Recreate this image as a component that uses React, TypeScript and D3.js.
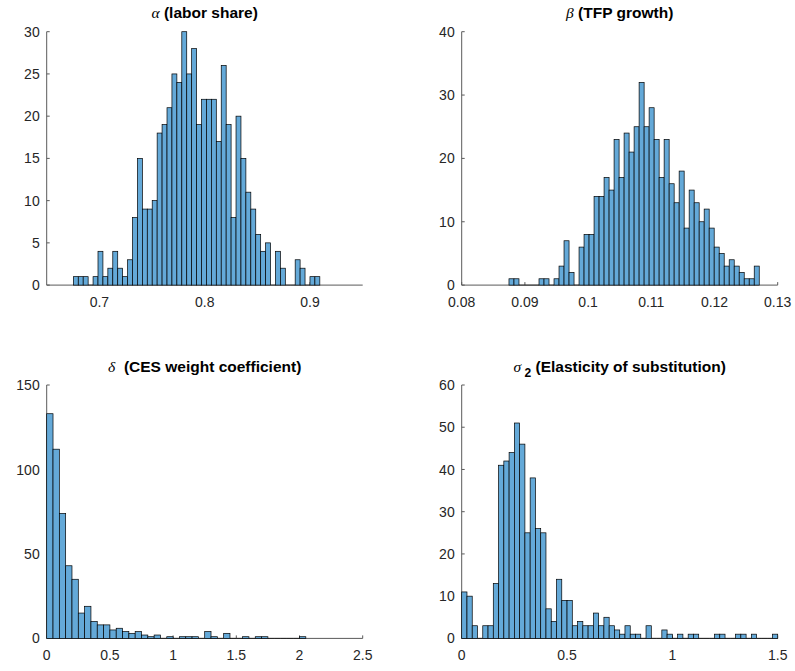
import React from 'react';
import * as d3 from 'd3';

// ---------- data ----------
const alphaCounts = [1,1,1,0,1,4,1,2,4,2, 1,3,8,15,9,9,10,18,19,21, 25,24,30,25,28,19,22,22,22,17, 26,19,8,20,15,11,9,6,4,5, 0,4,2,0,0,3,2,0,1,1];
const alphaStart = 0.6753;
const alphaBinWidth = 0.00468;
const alphaXDomain = [0.65, 0.95];
const alphaYDomain = [0, 30];
const alphaXTicks = [0.7, 0.8, 0.9];
const alphaYTicks = [0, 5, 10, 15, 20, 25, 30];

const betaCounts = [1,1,0,0,0,0,1,1,0,1, 3,7,2,0,6,8,8,14,14,17, 15,23,17,24,21,25,32,25,28,23, 17,23,16,13,18,9,15,13,10,12, 9,6,5,3,4,3,2,1,1,3];
const betaStart = 0.08748;
const betaBinWidth = 0.000792;
const betaXDomain = [0.08, 0.13];
const betaYDomain = [0, 40];
const betaXTicks = [0.08, 0.09, 0.1, 0.11, 0.12, 0.13];
const betaYTicks = [0, 10, 20, 30, 40];

const deltaCounts = [133,112,74,43,35,15,19,10,8,8, 5,6,4,3,4,2,1,2,0,1, 0,1,1,1,0,4,1,0,3,0, 0,1,0,1,1,0,0,0,0,0, 1];
const deltaStart = 0;
const deltaBinWidth = 0.05;
const deltaXDomain = [0, 2.5];
const deltaYDomain = [0, 150];
const deltaXTicks = [0, 0.5, 1, 1.5, 2, 2.5];
const deltaYTicks = [0, 50, 100, 150];

const sigmaCounts = [11,10,3,0,3,3,13,41,42,44, 51,46,25,38,26,25,7,4,14,9, 9,3,4,3,3,6,3,5,3,2, 1,3,1,1,0,3,0,0,2,1, 0,1,0,1,1,0,0,0,1,1, 0,0,1,1,0,1,0,0,0,1];
const sigmaStart = 0;
const sigmaBinWidth = 0.025;
const sigmaXDomain = [0, 1.5];
const sigmaYDomain = [0, 60];
const sigmaXTicks = [0, 0.5, 1, 1.5];
const sigmaYTicks = [0, 10, 20, 30, 40, 50, 60];

// ---------- styling ----------
const W = 795;
const H = 671;
const BAR_FILL = '#64a9d8';
const AXIS = '#5a5a5a';
const TEXT = '#262626';
const TICK_FONT = 14;
const TITLE_FONT = 15.5;
const SANS = '"Liberation Sans", Arial, Helvetica, sans-serif';
const SERIF = '"Liberation Serif", "DejaVu Serif", serif';

const fmt = (d: number) => String(+d.toFixed(4));

type PanelProps = {
  left: number; top: number; width: number; height: number;
  counts: number[]; start: number; binWidth: number;
  xDomain: number[]; yDomain: number[]; xTicks: number[]; yTicks: number[];
  title: React.ReactNode;
};

function Panel(p: PanelProps) {
  const x = d3.scaleLinear().domain(p.xDomain).range([p.left, p.left + p.width]);
  const y = d3.scaleLinear().domain(p.yDomain).range([p.top + p.height, p.top]);
  const bottom = p.top + p.height;
  const bins = p.counts.map((c, i) => ({ x0: p.start + i * p.binWidth, x1: p.start + (i + 1) * p.binWidth, c }));
  return (
    <g>
      <text x={p.left + p.width / 2} y={p.top - 13.5} textAnchor="middle" fontFamily={SANS}
        fontSize={TITLE_FONT} fill="#000" style={{ whiteSpace: 'pre' }}>{p.title}</text>
      {/* axes */}
      <line x1={p.left} x2={p.left + p.width} y1={bottom} y2={bottom} stroke={AXIS} strokeWidth={1} />
      <line x1={p.left} x2={p.left} y1={p.top} y2={bottom} stroke={AXIS} strokeWidth={1} />
      {p.yTicks.map(t => (
        <g key={'y' + t}>
          <line x1={p.left} x2={p.left + 3} y1={y(t)} y2={y(t)} stroke={AXIS} />
          <text x={p.left - 7} y={y(t)} dy="0.36em" textAnchor="end" fontFamily={SANS}
            fontSize={TICK_FONT} fill={TEXT}>{fmt(t)}</text>
        </g>
      ))}
      {p.xTicks.map(t => (
        <g key={'x' + t}>
          <line x1={x(t)} x2={x(t)} y1={bottom} y2={bottom - 3} stroke={AXIS} />
          <text x={x(t)} y={bottom + 22} textAnchor="middle" fontFamily={SANS}
            fontSize={TICK_FONT} fill={TEXT}>{fmt(t)}</text>
        </g>
      ))}
      {/* bars */}
      {bins.map((b, i) => b.c > 0 ? (
        <rect key={i} x={x(b.x0)} y={y(b.c)} width={x(b.x1) - x(b.x0)} height={bottom - y(b.c)}
          fill={BAR_FILL} stroke="#000" strokeWidth={0.7} />
      ) : (
        <line key={i} x1={x(b.x0)} x2={x(b.x1)} y1={bottom} y2={bottom} stroke="#000" strokeWidth={0.7} />
      ))}
    </g>
  );
}

const greek = (s: string) => (
  <tspan fontFamily={SERIF} fontStyle="italic" fontWeight="normal">{s}</tspan>
);

export default function App() {
  const pw = 316;
  const ph = 253.4;
  const l1 = 46.7, l2 = 461.7, t1 = 31.7, t2 = 385;
  return (
    <svg width={W} height={H} viewBox={`0 0 ${W} ${H}`}
      style={{ position: 'absolute', left: 0, top: 0, background: '#fff' }}>
      <rect x={0} y={0} width={W} height={H} fill="#fff" />
      <Panel left={l1} top={t1} width={pw} height={ph} counts={alphaCounts} start={alphaStart}
        binWidth={alphaBinWidth} xDomain={alphaXDomain} yDomain={alphaYDomain} xTicks={alphaXTicks}
        yTicks={alphaYTicks}
        title={<>{greek('α')}<tspan fontWeight="bold"> (labor share)</tspan></>} />
      <Panel left={l2} top={t1} width={pw} height={ph} counts={betaCounts} start={betaStart}
        binWidth={betaBinWidth} xDomain={betaXDomain} yDomain={betaYDomain} xTicks={betaXTicks}
        yTicks={betaYTicks}
        title={<>{greek('β')}<tspan fontWeight="bold"> (TFP growth)</tspan></>} />
      <Panel left={l1} top={t2} width={pw} height={ph} counts={deltaCounts} start={deltaStart}
        binWidth={deltaBinWidth} xDomain={deltaXDomain} yDomain={deltaYDomain} xTicks={deltaXTicks}
        yTicks={deltaYTicks}
        title={<>{greek('δ')}<tspan fontWeight="bold">  (CES weight coefficient)</tspan></>} />
      <Panel left={l2} top={t2} width={pw} height={ph} counts={sigmaCounts} start={sigmaStart}
        binWidth={sigmaBinWidth} xDomain={sigmaXDomain} yDomain={sigmaYDomain} xTicks={sigmaXTicks}
        yTicks={sigmaYTicks}
        title={<>{greek('σ')}<tspan fontWeight="bold" fontSize={12} dy={5}> 2</tspan><tspan fontWeight="bold" dy={-5}> (Elasticity of substitution)</tspan></>} />
    </svg>
  );
}
